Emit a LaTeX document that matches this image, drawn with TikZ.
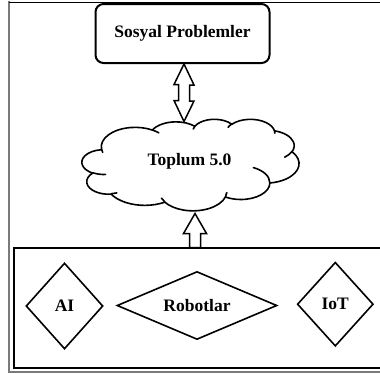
\documentclass[tikz,border=0pt]{standalone}
\usepackage{fontspec}
\setmainfont{Liberation Serif}
\usetikzlibrary{shapes.geometric,calc}

% Elliptic arc given as in a preset-shape path: radii wR, hR,
% start angle and sweep as seen from the centre (degrees).
% Leaves the matching parametric angles in \ooS and \ooE.
\newcommand\ooarc[4]{%
  \pgfmathsetmacro\ooS{atan2((#1)*sin(#3),(#2)*cos(#3))}%
  \pgfmathsetmacro\ooE{atan2((#1)*sin((#3)+(#4)),(#2)*cos((#3)+(#4)))}%
  \pgfmathsetmacro\ooE{ifthenelse((#4)>0,ifthenelse(\ooE<\ooS,\ooE+360,\ooE),ifthenelse(\ooE>\ooS,\ooE-360,\ooE))}%
  \xdef\ooS{\ooS}\xdef\ooE{\ooE}%
}
\newcommand\ooseg[4]{\pgfextra{\ooarc{#1}{#2}{#3}{#4}} arc[x radius=#1, y radius=#2, start angle=\ooS, end angle=\ooE]}

\begin{document}
\begin{tikzpicture}[x=1pt, y=-1pt,
  txt/.style={font=\fontsize{17.5}{21}\selectfont\bfseries, text=black},
  ln/.style={draw=black, line width=1.6pt},
  dia/.style={ln, shape=diamond, inner sep=0pt, txt},
  blockarrow/.style={ln, line width=1.5pt, line join=miter, fill=white},
  cloudline/.style={ln, line join=round, line cap=round},
  pageframe/.style={draw=black!52, line width=1.8pt}]
\useasboundingbox (0,0) rectangle (380,373);

% page frame
\draw[pageframe] (8.8,0.5) -- (8.8,371.6) -- (380,371.6);
\draw[line width=1pt] (9,2.5) -- (380,2.5);

% technology panel, open to the right
\coordinate (tl) at (13.7,247.7);
\coordinate (bl) at (13.7,367.7);
\draw[ln] (380,247.7) -- (tl) -- (bl) -- (380,367.7);

% social problems box
\node[draw, line width=2pt, rounded corners=8pt, minimum width=174pt,
      minimum height=59pt, txt] (sp) at (182.5,33.5) {Sosyal Problemler};

% cloud outline (43.2 x 43.2 units)
\begin{scope}[shift={(82,119)}, x=5.023pt, y=-2.118pt]
\draw[cloudline] (3.900,14.370)
  \ooseg{6.753}{9.190}{-190.48748}{123.78053}
  \ooseg{5.333}{7.267}{-144.10238}{89.94523}
  \ooseg{4.365}{5.945}{-145.80792}{99.72302}
  \ooseg{4.857}{6.595}{-130.98607}{117.24173}
  \ooseg{5.333}{7.273}{-78.70888}{109.02692}
  \ooseg{6.775}{9.220}{-46.26725}{130.26900}
  \ooseg{5.785}{7.867}{0.62502}{114.03333}
  \ooseg{6.752}{9.215}{22.45160}{115.17255}
  \ooseg{7.720}{10.543}{66.24263}{75.71102}
  \ooseg{4.360}{5.918}{-274.94208}{146.73557}
  \ooseg{4.345}{5.945}{-246.82850}{152.51885}
  -- cycle;
\draw[cloudline]
  (4.693,26.177) \ooseg{4.345}{5.945}{86.74200}{26.42950}
  (6.928,34.899) \ooseg{4.360}{5.918}{73.61047}{11.44747}
  (16.478,39.090) \ooseg{6.752}{9.215}{137.62415}{14.08110}
  (28.827,34.751) \ooseg{6.752}{9.215}{6.45327}{15.99835}
  (34.129,22.954) \ooseg{5.785}{7.867}{-70.29235}{70.91737}
  (41.798,15.354) \ooseg{5.333}{7.273}{30.31803}{27.75150}
  (38.324,5.426) \ooseg{4.857}{6.595}{-13.74433}{14.85890}
  (29.078,3.952) \ooseg{4.857}{6.595}{-149.18145}{18.19537}
  (22.141,4.720) \ooseg{4.365}{5.945}{-163.49427}{17.68635}
  (14.000,5.192) \ooseg{6.753}{9.190}{-66.70695}{12.31935}
  (4.127,15.789) \ooseg{6.753}{9.190}{157.65435}{11.85817};
\end{scope}
\node[txt] (toplum) at (189.5,161) {Toplum 5.0};

% technologies
\node[dia, minimum width=77pt, minimum height=86pt] (ai) at (64.5,306) {AI};
\node[dia, aspect=2.3, minimum width=160pt, minimum height=68pt] (rob) at (197,305.5) {Robotlar};
\node[dia, minimum width=76pt, minimum height=84pt] (iot) at (335.3,304.2) {IoT};

% two-way arrow between the problems box and the cloud
\coordinate (cloudtop) at (184,121.5);
\coordinate (d1) at (sp.south -| cloudtop);
\draw[blockarrow] (d1) -- ++(10,21) -- ++(-4.5,0) -- ++(0,16) -- ++(4.5,0)
  -- (cloudtop) -- ++(-10,-21) -- ++(4.5,0) -- ++(0,-16) -- ++(-4.5,0) -- cycle;

% arrow from the technology panel up to the cloud
\coordinate (u1) at (195,213.5);
\coordinate (u2) at (tl -| u1);
\draw[blockarrow] (u1) -- ++(11.5,20) -- ++(-6,0) -- ($(u2)+(5.5,0)$)
  -- ($(u2)+(-5.5,0)$) -- ++(0,-14.2) -- ++(-6,0) -- cycle;
\end{tikzpicture}
\end{document}
